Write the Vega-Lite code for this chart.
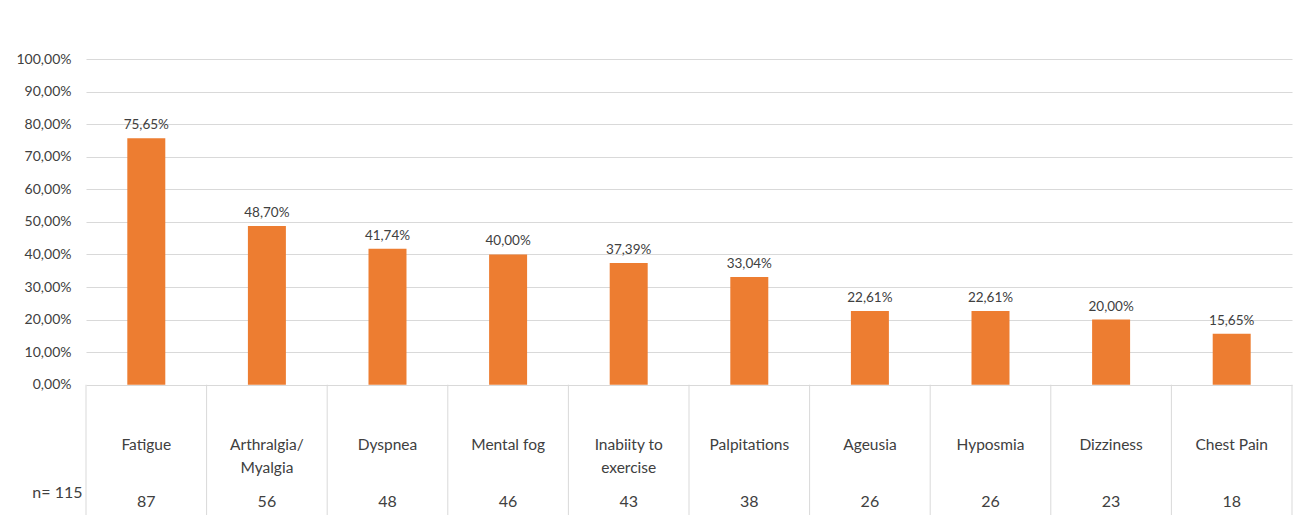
{
  "$schema": "https://vega.github.io/schema/vega-lite/v6.json",
  "width": 1206,
  "height": 456,
  "autosize": {"type": "none"},
  "padding": {"left": 86, "top": 59, "right": 16, "bottom": 3},
  "background": "white",
  "config": {
    "locale": {"number": {"decimal": ",", "thousands": ".", "grouping": [3], "currency": ["", " €"]}},
    "view": {"stroke": null},
    "font": "Lato",
    "text": {"font": "Lato", "color": "#404040"}
  },
  "data": {
    "values": [
      {"symptom": "Fatigue", "pct": 0.7565, "count": 87},
      {"symptom": "Arthralgia/\nMyalgia", "pct": 0.4870, "count": 56},
      {"symptom": "Dyspnea", "pct": 0.4174, "count": 48},
      {"symptom": "Mental fog", "pct": 0.4000, "count": 46},
      {"symptom": "Inabiity to\nexercise", "pct": 0.3739, "count": 43},
      {"symptom": "Palpitations", "pct": 0.3304, "count": 38},
      {"symptom": "Ageusia", "pct": 0.2261, "count": 26},
      {"symptom": "Hyposmia", "pct": 0.2261, "count": 26},
      {"symptom": "Dizziness", "pct": 0.2000, "count": 23},
      {"symptom": "Chest Pain", "pct": 0.1565, "count": 18}
    ]
  },
  "encoding": {
    "x": {
      "field": "symptom",
      "type": "nominal",
      "sort": null,
      "scale": {"paddingInner": 0, "paddingOuter": 0},
      "axis": null
    }
  },
  "layer": [
    {
      "mark": {"type": "bar", "color": "#ED7D31", "width": {"band": 0.315}},
      "encoding": {
        "y": {
          "field": "pct",
          "type": "quantitative",
          "scale": {"domain": [-0.4, 1.0], "nice": false, "zero": false},
          "axis": {
            "title": null,
            "values": [-0.331, 0, 0.1, 0.2, 0.3, 0.4, 0.5, 0.6, 0.7, 0.8, 0.9, 1.0],
            "labelExpr": "datum.value < 0 ? 'n= 115' : format(datum.value, '.2%')",
            "labelFont": "Lato",
            "labelFontSize": {"condition": {"test": "datum.value < 0", "value": 16}, "value": 14},
            "labelColor": "#404040",
            "labelPadding": {"condition": {"test": "datum.value < 0", "value": 4}, "value": 15},
            "domain": false,
            "ticks": false,
            "gridColor": "#D9D9D9",
            "gridOpacity": {"condition": {"test": "datum.value < 0", "value": 0}, "value": 1}
          }
        }
      }
    },
    {
      "mark": {"type": "text", "baseline": "bottom", "dy": -6, "fontSize": 13.5},
      "encoding": {
        "y": {"field": "pct", "type": "quantitative"},
        "text": {"field": "pct", "type": "quantitative", "format": ".2%"}
      }
    },
    {
      "mark": {"type": "rule", "color": "#D9D9D9", "strokeWidth": 1},
      "encoding": {
        "x": {"field": "symptom", "type": "nominal", "sort": null, "bandPosition": 0},
        "y": {"datum": 0},
        "y2": {"datum": -0.4}
      }
    },
    {
      "transform": [{"filter": "datum.symptom == 'Chest Pain'"}],
      "mark": {"type": "rule", "color": "#D9D9D9", "strokeWidth": 1},
      "encoding": {
        "x": {"field": "symptom", "type": "nominal", "sort": null, "bandPosition": 1},
        "y": {"datum": 0},
        "y2": {"datum": -0.4}
      }
    },
    {
      "mark": {"type": "text", "baseline": "middle", "fontSize": 15.5, "lineBreak": "\n", "lineHeight": 23},
      "encoding": {
        "y": {"datum": -0.184},
        "text": {"field": "symptom", "type": "nominal"}
      }
    },
    {
      "mark": {"type": "text", "baseline": "middle", "fontSize": 16},
      "encoding": {
        "y": {"datum": -0.359},
        "text": {"field": "count", "type": "quantitative"}
      }
    }
  ]
}
